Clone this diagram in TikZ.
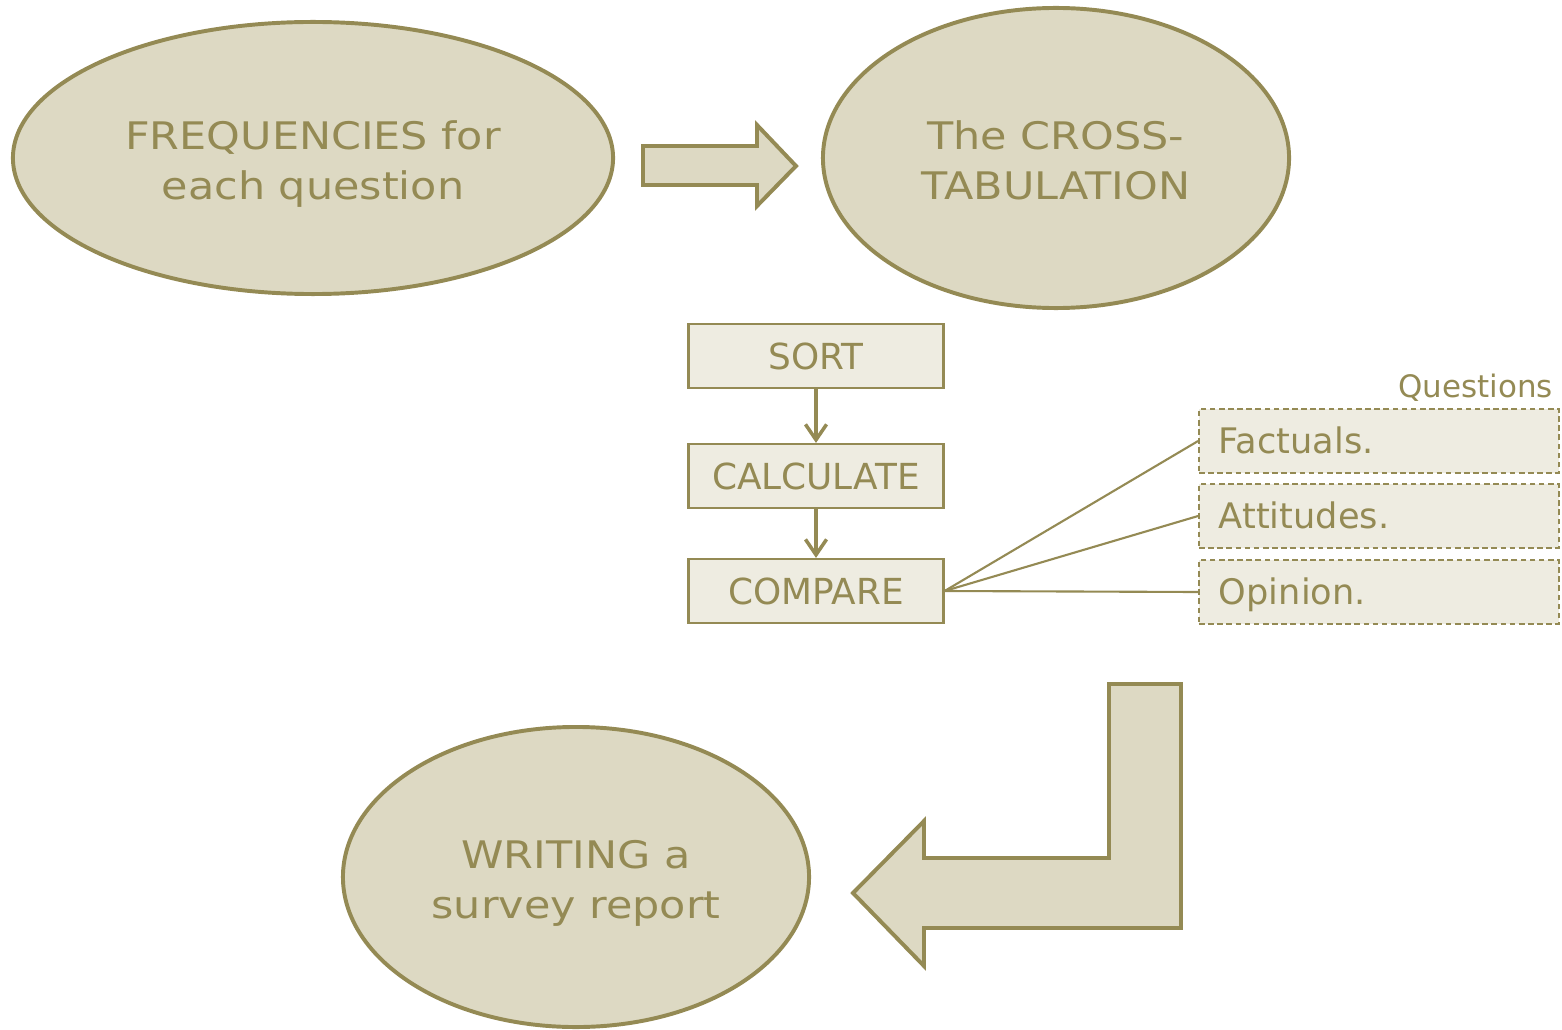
\documentclass[tikz,border=0pt]{standalone}
\usepackage{fontspec}
\setmainfont{DejaVu Sans}
\newfontfamily\widefont[FakeStretch=1.13]{DejaVu Sans}
\usetikzlibrary{shapes.geometric,arrows.meta}
\definecolor{olive}{HTML}{948A54}
\definecolor{khaki}{HTML}{DDD9C3}
\definecolor{pale}{HTML}{EEECE1}

\begin{document}
\begin{tikzpicture}[x=0.025cm,y=-0.025cm,
  ov/.style={ellipse,draw=olive,fill=khaki,line width=2.8pt,inner sep=0pt,
            align=center,text=olive,text height=59pt,text depth=0pt,
            font=\widefont\fontsize{27}{35.4}\selectfont},
  bx/.style={draw=olive,fill=pale,line width=1.5pt,minimum width=6.375cm,
            minimum height=1.6cm,inner sep=0pt,text=olive,font=\fontsize{25.5}{30}\selectfont},
  qb/.style={draw=olive,fill=pale,line width=1.2pt,dash pattern=on 4pt off 2.5pt,
            minimum height=1.6cm,inner xsep=0.5cm,text width=8cm,align=left,
            text height=18pt,text depth=0pt,text=olive,font=\fontsize{25}{30}\selectfont},
  big/.style={draw=olive,fill=khaki,line width=2.8pt,miter limit=10},
  flow/.style={-{Straight Barb[length=11pt,width=15pt]},draw=olive,line width=2.5pt},
  link/.style={draw=olive,line width=1.5pt}
]
\useasboundingbox (0,0) rectangle (1562,1030);
% main stages
\node[ov,minimum width=15cm,minimum height=6.8cm] (freq) at (313,158)
  {FREQUENCIES for\\each question};
\node[ov,minimum width=11.65cm,minimum height=7.5cm] (cross) at (1056,158)
  {The CROSS-\\TABULATION};
\node[ov,minimum width=11.65cm,minimum height=7.5cm] (write) at (576,877)
  {WRITING a\\survey report};
% block arrows
\draw[big] (643,146) -- (757,146) -- (757,125) -- (796,166) -- (757,206)
  -- (757,185) -- (643,185) -- cycle;
\draw[big] (1109,684) -- (1181,684) -- (1181,928) -- (924,928) -- (924,966)
  -- (853,893) -- (924,821) -- (924,858) -- (1109,858) -- cycle;
% steps
\node[bx] (sort) at (816,356) {SORT};
\node[bx] (calc) at (816,476) {CALCULATE};
\node[bx] (comp) at (816,591) {COMPARE};
\draw[flow] (sort) -- (calc);
\draw[flow] (calc) -- (comp);
% questions
\node[qb] (fact) at (1379,441) {Factuals.};
\node[qb] (att)  at (1379,516) {Attitudes.};
\node[qb] (opin) at (1379,592) {Opinion.};
\node[anchor=base east,inner sep=0pt,text=olive,font=\fontsize{22}{26}\selectfont]
  (quest) at (1553,397) {Questions};
\draw[link] (comp.east) -- (fact.west);
\draw[link] (comp.east) -- (att.west);
\draw[link] (comp.east) -- (opin.west);
\end{tikzpicture}
\end{document}
